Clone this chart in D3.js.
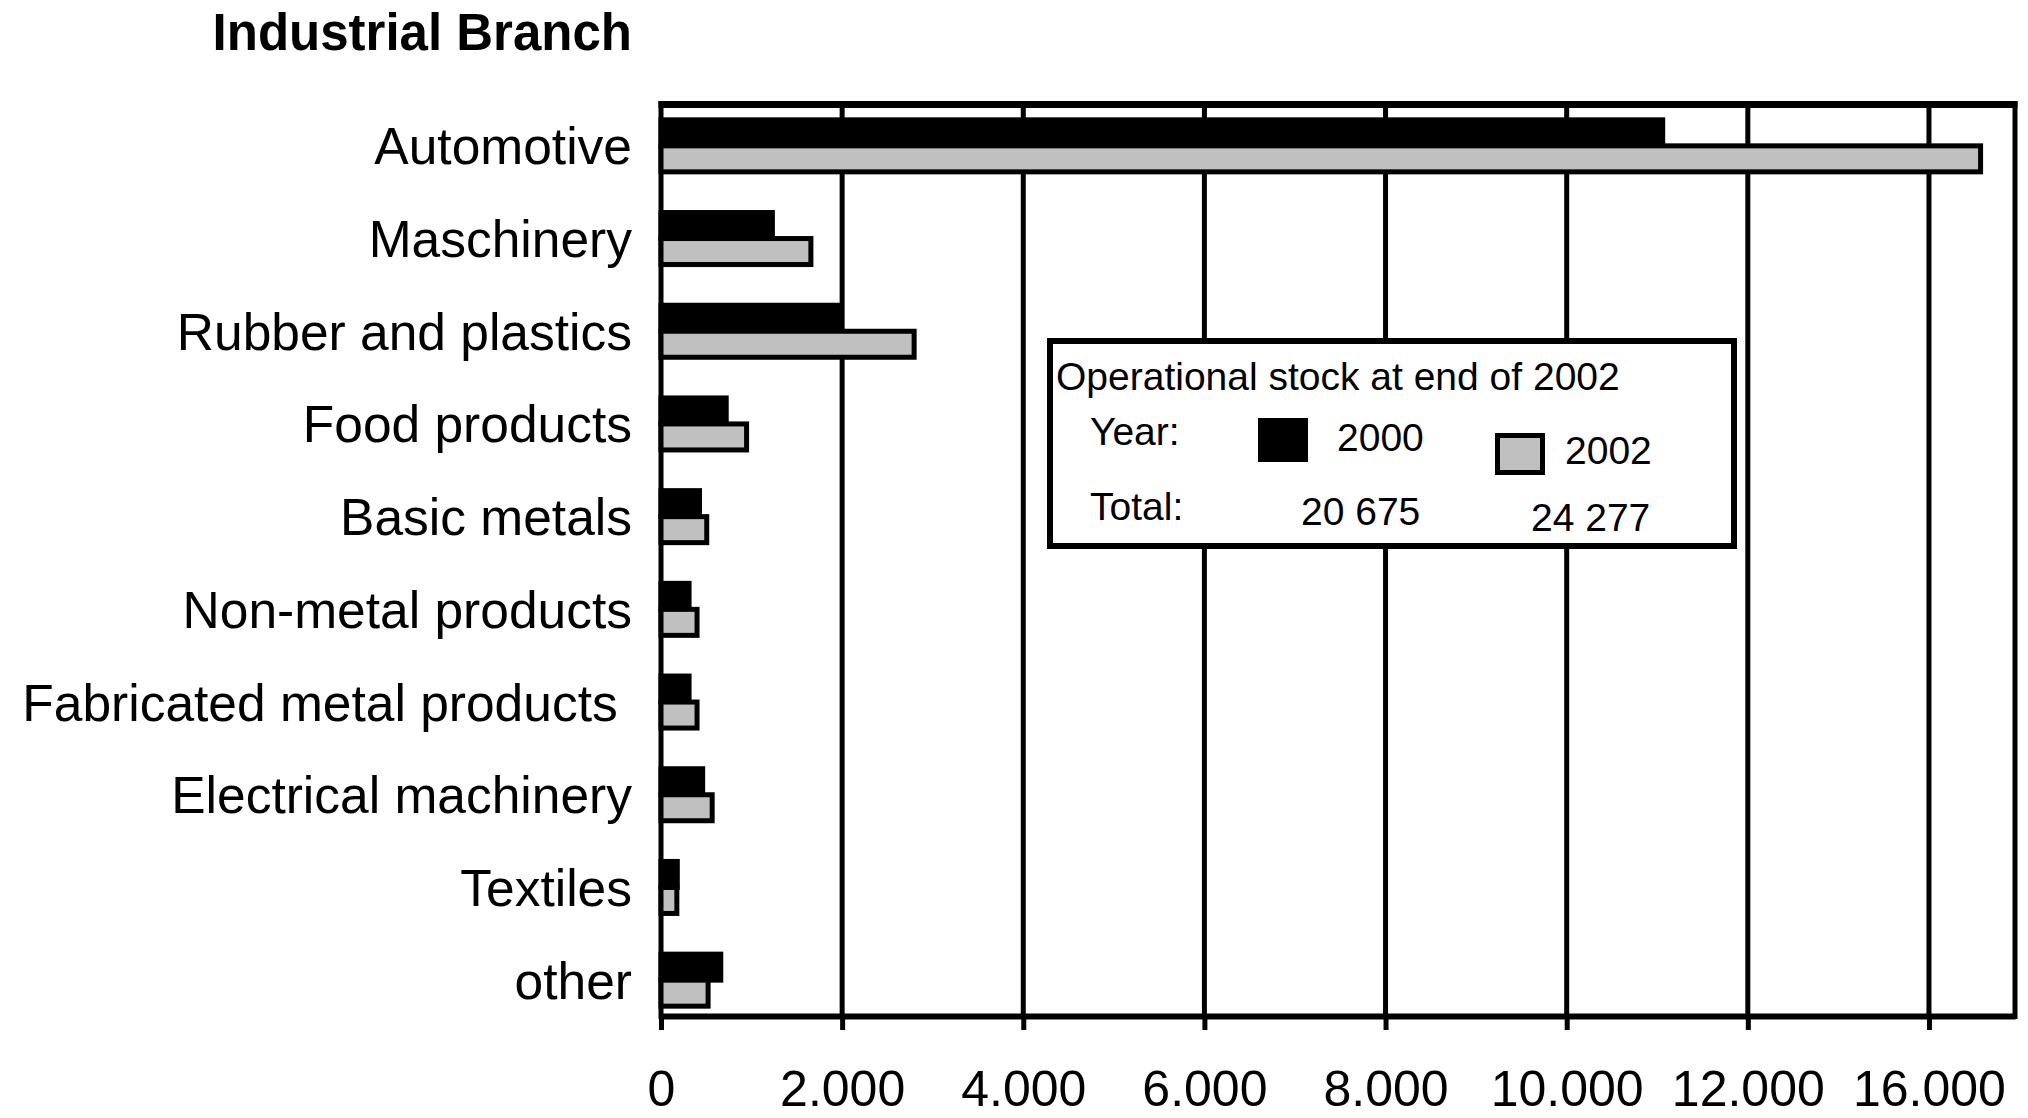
<!DOCTYPE html>
<html><head><meta charset="utf-8">
<script src="https://cdn.jsdelivr.net/npm/d3@7"></script>
<style>
html,body{margin:0;padding:0;background:#fff;}
svg{display:block;}
text{font-family:"Liberation Sans",Arial,Helvetica,sans-serif;fill:#000;}
</style></head><body>
<svg id="chart" width="2028" height="1118"></svg>
<script>
// ---- data ----
const categories = ["Automotive","Maschinery","Rubber and plastics","Food products","Basic metals",
  "Non-metal products","Fabricated metal products ","Electrical machinery","Textiles","other"];
const stock2000 = [11060, 1230, 1990, 720, 425, 310, 310, 460, 180, 660];
const stock2002 = [14570, 1655, 2795, 945, 505, 398, 398, 565, 175, 520];
const xTickValues = [0, 2000, 4000, 6000, 8000, 10000, 12000, 14000];
const xTickLabels = ["0", "2.000", "4.000", "6.000", "8.000", "10.000", "12.000", "16.000"];
const legendYears = ["2000", "2002"];
const legendTotals = ["20 675", "24 277"];
const yAxisTitle = "Industrial Branch";
const legendTitle = "Operational stock at end of 2002";

// ---- layout ----
const svg = d3.select("#chart");
const plot = {left: 661, right: 2015, top: 104.5, bottom: 1016};
const colors = {y2000: "#000000", y2002: "#c0c0c0"};

const x = d3.scaleLinear().domain([0, 14950]).range([plot.left, plot.right]);
const y = d3.scaleBand().domain(categories).range([99.5, 1026.5]).paddingInner(0.439).paddingOuter(0.2195);
const half = y.bandwidth() / 2;

// gridlines
svg.append("g").selectAll("line").data(xTickValues.filter(d => d > 0)).join("line")
  .attr("x1", d => x(d)).attr("x2", d => x(d))
  .attr("y1", plot.top).attr("y2", plot.bottom)
  .attr("stroke", "#000").attr("stroke-width", 5);

// frame (top, left, right)
svg.append("line").attr("x1", plot.left - 2.5).attr("x2", plot.right + 2.5)
  .attr("y1", plot.top).attr("y2", plot.top).attr("stroke", "#000").attr("stroke-width", 7);
svg.append("line").attr("x1", plot.left).attr("x2", plot.left)
  .attr("y1", plot.top - 3.5).attr("y2", plot.bottom + 3).attr("stroke", "#000").attr("stroke-width", 5);
svg.append("line").attr("x1", plot.right).attr("x2", plot.right)
  .attr("y1", plot.top - 3.5).attr("y2", plot.bottom + 3).attr("stroke", "#000").attr("stroke-width", 5);

// bars
const rows = categories.map((c, i) => ({c, v0: stock2000[i], v2: stock2002[i]}));
const g = svg.append("g");
g.selectAll("rect.b2000").data(rows).join("rect").attr("class", "b2000")
  .attr("x", x(0)).attr("y", d => y(d.c))
  .attr("width", d => x(d.v0) - x(0)).attr("height", half)
  .attr("fill", colors.y2000).attr("stroke", "#000").attr("stroke-width", 5);
g.selectAll("rect.b2002").data(rows).join("rect").attr("class", "b2002")
  .attr("x", x(0)).attr("y", d => y(d.c) + half)
  .attr("width", d => x(d.v2) - x(0)).attr("height", half)
  .attr("fill", colors.y2002).attr("stroke", "#000").attr("stroke-width", 5);

// x axis
const xAxis = d3.axisBottom(x).tickValues(xTickValues)
  .tickFormat((d, i) => xTickLabels[i]).tickSize(14).tickSizeOuter(0).tickPadding(40);
const ax = svg.append("g").attr("transform", `translate(0,${plot.bottom})`).call(xAxis);
ax.select(".domain").attr("stroke", "#000").attr("stroke-width", 6);
ax.selectAll(".tick line").attr("stroke", "#000").attr("stroke-width", 5);
ax.selectAll(".tick text").attr("font-size", 50).attr("fill", "#000")
  .style("font-family", '"Liberation Sans",Arial,sans-serif');

// category labels
svg.append("g").selectAll("text").data(categories).join("text")
  .attr("x", 632).attr("y", d => y(d) + half).attr("dy", "0.36em")
  .attr("text-anchor", "end").attr("font-size", 51.5)
  .attr("xml:space", "preserve").style("white-space", "pre")
  .text(d => d);

// axis title
svg.append("text").attr("x", 632).attr("y", 50).attr("text-anchor", "end")
  .attr("font-size", 51).attr("font-weight", "bold").text(yAxisTitle);

// legend
const lg = svg.append("g");
lg.append("rect").attr("x", 1050).attr("y", 341).attr("width", 684).attr("height", 205)
  .attr("fill", "#fff").attr("stroke", "#000").attr("stroke-width", 6);
lg.append("text").attr("x", 1056).attr("y", 390).attr("font-size", 39).text(legendTitle);
lg.append("text").attr("x", 1090).attr("y", 445).attr("font-size", 39).text("Year:");
lg.append("text").attr("x", 1090).attr("y", 520).attr("font-size", 39).text("Total:");
lg.append("rect").attr("x", 1258).attr("y", 418).attr("width", 50).attr("height", 44)
  .attr("fill", colors.y2000);
lg.append("text").attr("x", 1337).attr("y", 451).attr("font-size", 39).text(legendYears[0]);
lg.append("rect").attr("x", 1497.5).attr("y", 435.5).attr("width", 45).attr("height", 37)
  .attr("fill", colors.y2002).attr("stroke", "#000").attr("stroke-width", 5);
lg.append("text").attr("x", 1565).attr("y", 464).attr("font-size", 39).text(legendYears[1]);
lg.append("text").attr("x", 1301).attr("y", 525).attr("font-size", 39).text(legendTotals[0]);
lg.append("text").attr("x", 1531).attr("y", 531).attr("font-size", 39).text(legendTotals[1]);
</script>
</body></html>
